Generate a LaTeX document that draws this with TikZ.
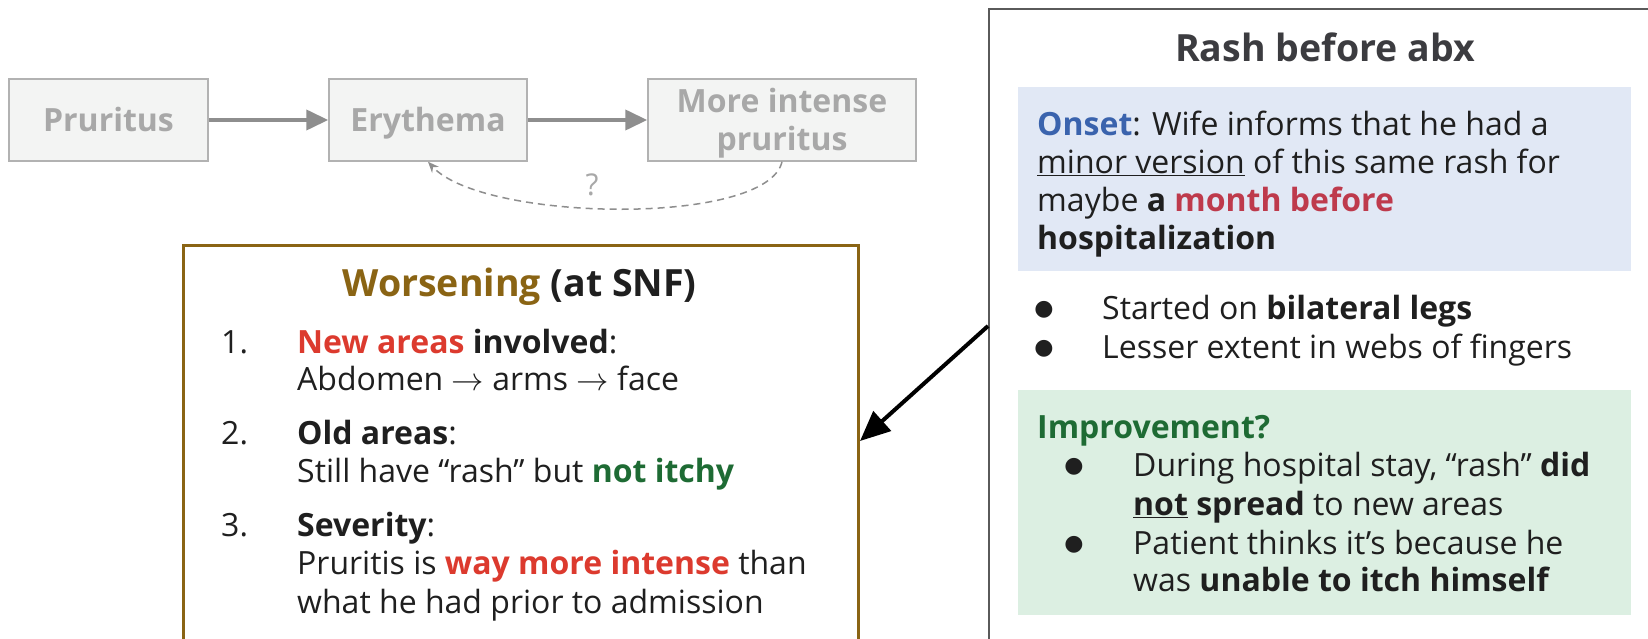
\documentclass[tikz,border=0pt]{standalone}
\usepackage{fontspec}
\setmainfont{Open Sans}
\newfontfamily\djv{DejaVu Sans}
\usetikzlibrary{arrows.meta}
\definecolor{boxgray}{HTML}{F3F4F3}
\definecolor{boxline}{HTML}{B2B2B2}
\definecolor{gtext}{HTML}{A8A8A8}
\definecolor{garrow}{HTML}{8E8E8E}
\definecolor{txtc}{HTML}{1F1F1F}
\definecolor{brown}{HTML}{8A6414}
\definecolor{redc}{HTML}{DC3A2E}
\definecolor{monthc}{HTML}{BE3A4C}
\definecolor{greenc}{HTML}{1E6B34}
\definecolor{bluec}{HTML}{3A63AD}
\definecolor{bluebg}{HTML}{E1E8F5}
\definecolor{greenbg}{HTML}{DCEFE2}
\definecolor{rashline}{HTML}{5A5A5A}
\definecolor{titlec}{HTML}{3C3C40}
\newcommand\bodyfont{\fontsize{32}{38}\selectfont}
\newcommand\titfont{\fontsize{37.5}{44}\selectfont\bfseries}
\newcommand\bul{{\djv\fontsize{22}{22}\selectfont ●}}
\newcommand\rarr{\scalebox{1.3}{$\rightarrow$}}
\tikzset{
  flowbox/.style={draw=boxline, line width=1.5pt, fill=boxgray, text=gtext,
    font=\fontsize{32}{37.5}\selectfont\bfseries, align=center, minimum height=82pt,
    inner sep=0, text height=23pt, text depth=0pt},
  flowarrow/.style={draw=garrow, line width=4pt, -{Triangle[length=22pt,width=20pt]}},
  body/.style={anchor=base west, inner sep=0, font=\bodyfont, text=txtc},
  bullet/.style={anchor=base, inner sep=0, text=txtc},
}
\begin{document}
\begin{tikzpicture}[x=1pt,y=-1pt]
\useasboundingbox (0,0) rectangle (1648,639);
\clip (0,0) rectangle (1648,639);
\fill[white] (0,0) rectangle (1648,639);

% top flow
\node[flowbox, minimum width=199pt] (pru) at (108.5,120) {Pruritus};
\node[flowbox, minimum width=198pt] (ery) at (428,120) {Erythema};
\node[flowbox, minimum width=268pt, text height=60.5pt, text depth=0pt] (more) at (782,120) {More intense\\pruritus};
\draw[flowarrow] (pru.east) -- (ery.west);
\draw[flowarrow] (ery.east) -- (more.west);
\draw[garrow, line width=1.5pt, dashed, dash pattern=on 7pt off 5pt, -{Stealth[length=11pt,width=9pt]}]
  (more.south) .. controls +(-15,65) and +(55,60) .. (ery.south);
\node[text=gtext, font=\fontsize{30}{34}\selectfont, inner sep=0] (q) at (592,185) {?};

% Worsening box
\node[draw=brown, line width=3pt, anchor=north west, minimum width=675pt, minimum height=420pt, inner sep=0] (worse) at (182,244) {};
\node[anchor=base, inner sep=0, font=\titfont, text=txtc] (wt) at (519.5,296.5) {\textcolor{brown}{Worsening} (at SNF)};
\node[body] (n1) at (221,353.5) {1.};
\node[body] (w1a) at (297,353.5) {\textbf{\textcolor{redc}{New areas} involved}:};
\node[body] (w1b) at (297,390.5) {Abdomen \rarr\ arms \rarr\ face};
\node[body] (n2) at (221,444.5) {2.};
\node[body] (w2a) at (297,444.5) {\textbf{Old areas}:};
\node[body] (w2b) at (297,482.5) {Still have “rash” but \textbf{\textcolor{greenc}{not itchy}}};
\node[body] (n3) at (221,536.5) {3.};
\node[body] (w3a) at (297,536.5) {\textbf{Severity}:};
\node[body] (w3b) at (297,574.5) {Pruritis is \textbf{\textcolor{redc}{way more intense}} than};
\node[body] (w3c) at (297,613.5) {what he had prior to admission};

% Rash box
\node[draw=rashline, line width=2pt, anchor=north west, minimum width=700pt, minimum height=680pt, inner sep=0] (rash) at (988,8) {};
\node[anchor=base, inner sep=0, font=\titfont, text=titlec] (rt) at (1325,62) {Rash before abx};
\node[fill=bluebg, anchor=north west, minimum width=613pt, minimum height=184pt, inner sep=0] (onset) at (1018,87) {};
\node[body] (o1) at (1037,135.5) {\textbf{\textcolor{bluec}{Onset}}: Wife informs that he had a};
\node[body] (o2) at (1037,173.5) {\underline{minor version} of this same rash for};
\node[body] (o3) at (1037,211.5) {maybe \textbf{a \textcolor{monthc}{month before}}};
\node[body] (o4) at (1037,249.5) {\textbf{hospitalization}};
\node[bullet] (b1) at (1044,315) {\bul};
\node[body] (s1) at (1102,319.5) {Started on \textbf{bilateral legs}};
\node[bullet] (b2) at (1044,354) {\bul};
\node[body] (s2) at (1102,358.5) {Lesser extent in webs of fingers};
\node[fill=greenbg, anchor=north west, minimum width=613pt, minimum height=225pt, inner sep=0] (impr) at (1018,390) {};
\node[body, text=greenc] (i0) at (1037,438.5) {\textbf{Improvement?}};
\node[bullet] (b3) at (1074,472) {\bul};
\node[body] (i1) at (1133,476.5) {During hospital stay, “rash” \textbf{did}};
\node[body] (i2) at (1133,515.5) {\textbf{\underline{not} spread} to new areas};
\node[bullet] (b4) at (1074,550) {\bul};
\node[body] (i3) at (1133,554.5) {Patient thinks it’s because he};
\node[body] (i4) at (1133,591.5) {was \textbf{unable to itch himself}};

% connector
\draw[black, line width=4pt, -{Triangle[length=30pt,width=26pt]}]
  ([yshift=-318pt]rash.north west) -- ([yshift=-197pt]worse.north east);
\end{tikzpicture}
\end{document}
